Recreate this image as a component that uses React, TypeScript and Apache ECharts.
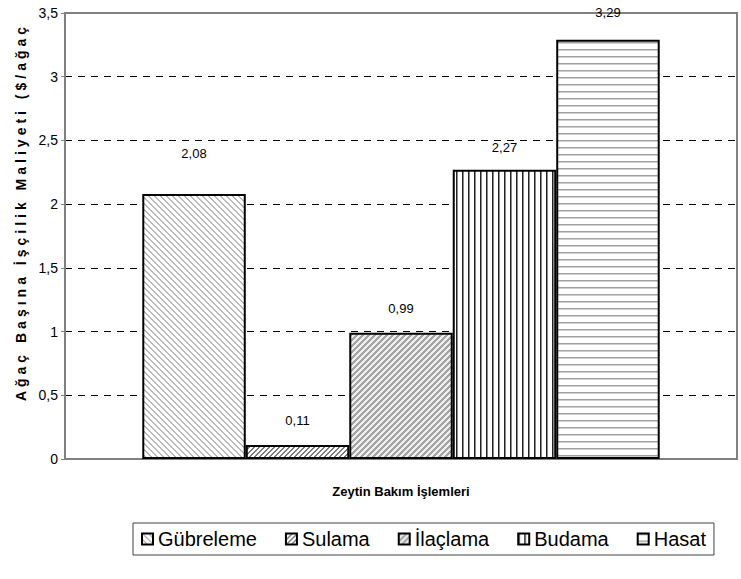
import React, { useEffect, useRef } from "react";
import * as echarts from "echarts";

// ---- data ----
const categories = ["Gübreleme", "Sulama", "İlaçlama", "Budama", "Hasat"];
const values = [2.08, 0.11, 0.99, 2.27, 3.29];
const yMin = 0;
const yMax = 3.5;
const yStep = 0.5;
const xTitle = "Zeytin Bakım İşlemleri";
const yTitle = "Ağaç Başına İşçilik Maliyeti ($/ağaç";

// ---- styles ----
const FONT = "'Liberation Sans', Arial, sans-serif";
const labelDistances = [34, 18, 18, 16, 21];

const fmt = (v: number) => String(v).replace(".", ",");

function tile(
  w: number,
  h: number,
  bg: string,
  paint: (x: number, y: number) => string | null
) {
  const c = document.createElement("canvas");
  c.width = w;
  c.height = h;
  const ctx = c.getContext("2d")!;
  ctx.fillStyle = bg;
  ctx.fillRect(0, 0, w, h);
  for (let y = 0; y < h; y++) {
    for (let x = 0; x < w; x++) {
      const col = paint(x, y);
      if (col) {
        ctx.fillStyle = col;
        ctx.fillRect(x, y, 1, 1);
      }
    }
  }
  return { image: c, repeat: "repeat", imageWidth: w, imageHeight: h } as any;
}

function makePatterns() {
  // Gübreleme: light backslash diagonals
  const p0 = tile(6, 6, "#ffffff", (x, y) => {
    const d = (x - y + 6) % 6;
    return d === 0 || d === 1 ? "#b8b8b8" : null;
  });
  // Sulama: darker forward diagonals
  const p1 = tile(5, 5, "#ffffff", (x, y) => {
    const d = (x + y) % 5;
    return d === 0 || d === 1 ? "#7a7a7a" : null;
  });
  // İlaçlama: medium forward diagonals
  const p2 = tile(6, 6, "#eeeeee", (x, y) => {
    const d = (x + y) % 6;
    return d <= 2 ? "#a4a4a4" : null;
  });
  // Budama: vertical lines
  const p3 = tile(6, 6, "#ffffff", (x) => {
    if (x === 0) return "#222222";
    if (x === 1) return "#8a8a8a";
    return null;
  });
  // Hasat: horizontal lines
  const p4 = tile(7, 7, "#ffffff", (_x, y) => {
    if (y === 0) return "#a0a0a0";
    if (y === 1) return "#d0d0d0";
    return null;
  });
  return [p0, p1, p2, p3, p4];
}

export default function App() {
  const ref = useRef<HTMLDivElement>(null);

  useEffect(() => {
    document.body.style.margin = "0";
    const el = ref.current!;
    const chart = echarts.init(el, null, { renderer: "svg" });
    const patterns = makePatterns();

    const nLines = Math.round((yMax - yMin) / yStep) + 1;
    const splitColors = Array.from({ length: nLines }, (_, i) =>
      i === 0 || i === nLines - 1 ? "rgba(0,0,0,0)" : "#000000"
    );

    const option: any = {
      animation: false,
      backgroundColor: "#ffffff",
      textStyle: { fontFamily: FONT },
      grid: {
        left: 65,
        right: 4,
        top: 13,
        bottom: 120,
        show: true,
        borderColor: "#808080",
        borderWidth: 2,
        backgroundColor: "rgba(0,0,0,0)",
      },
      xAxis: {
        type: "category",
        data: [""],
        axisLine: { show: true, lineStyle: { color: "#808080", width: 2 } },
        axisTick: { show: false },
        axisLabel: { show: false },
        splitLine: { show: false },
      },
      yAxis: {
        type: "value",
        min: yMin,
        max: yMax,
        interval: yStep,
        axisLine: { show: true, lineStyle: { color: "#808080", width: 2 } },
        axisTick: { show: true, length: 4, lineStyle: { color: "#808080", width: 1 } },
        axisLabel: {
          formatter: (v: number) => fmt(v),
          fontSize: 14,
          color: "#000",
          margin: 7,
          fontFamily: FONT,
        },
        splitLine: {
          show: true,
          lineStyle: { color: splitColors, type: [7, 6], width: 1 },
        },
      },
      legend: {
        left: 133,
        top: 523,
        orient: "horizontal",
        icon: "rect",
        itemWidth: 11,
        itemHeight: 11,
        itemGap: 28,
        padding: [6, 8],
        borderColor: "#404040",
        borderWidth: 1,
        textStyle: { fontSize: 20, color: "#000", fontFamily: FONT },
        itemStyle: { borderColor: "#000", borderWidth: 2 },
        data: categories,
      },
      graphic: [
        {
          type: "text",
          x: 401,
          y: 491,
          style: {
            text: xTitle,
            font: `bold 13px ${FONT}`,
            fill: "#000",
            textAlign: "center",
            textVerticalAlign: "middle",
          },
        },
        {
          type: "text",
          x: 21,
          y: 212,
          rotation: Math.PI / 2,
          style: {
            text: yTitle,
            font: `bold 14px ${FONT}`,
            fill: "#000",
            textAlign: "center",
            textVerticalAlign: "middle",
          },
        },
      ],
      series: categories.map((name, i) => ({
        name,
        type: "bar",
        data: [values[i]],
        barGap: "0%",
        barCategoryGap: "23%",
        itemStyle: { color: patterns[i], borderColor: "#000", borderWidth: 2 },
        label: {
          show: true,
          position: "top",
          distance: labelDistances[i],
          formatter: (p: any) => fmt(p.value),
          fontSize: 13,
          color: "#000",
          fontFamily: FONT,
        },
      })),
    };

    chart.setOption(option);

    const applySpacing = () => {
      el.querySelectorAll("text").forEach((t) => {
        if (t.textContent === yTitle) t.setAttribute("letter-spacing", "4");
      });
    };
    applySpacing();
    chart.on("finished", applySpacing);
    const tm = setTimeout(applySpacing, 50);

    return () => {
      clearTimeout(tm);
      chart.dispose();
    };
  }, []);

  return <div ref={ref} style={{ width: 741, height: 579 }} />;
}
